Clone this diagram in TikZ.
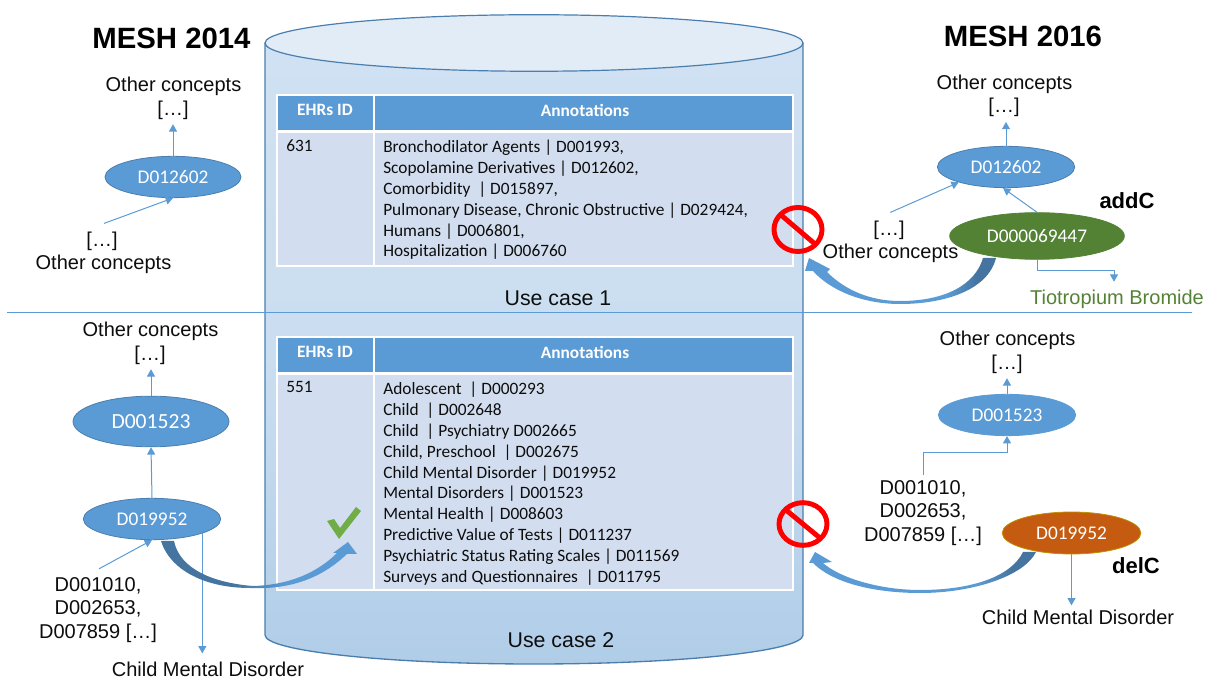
\documentclass[tikz,border=0pt]{standalone}
\usepackage{fontspec}
\setmainfont{Liberation Sans}
\newfontfamily\carl{Carlito}
\usetikzlibrary{shapes.geometric,arrows.meta}
\definecolor{cblue}{HTML}{5B9BD5}
\definecolor{cedge}{HTML}{4A7EAE}
\definecolor{cdark}{HTML}{44749F}
\definecolor{cgreen}{HTML}{548235}
\definecolor{corange}{HTML}{C55A11}
\definecolor{cgold}{HTML}{BF9000}
\definecolor{ccell}{HTML}{D2DEEF}
\definecolor{ccheck}{HTML}{70AD47}
\definecolor{ctop}{HTML}{E2ECF7}
\definecolor{cside}{HTML}{CFE1F2}
\definecolor{cbot}{HTML}{B0CDE8}
\definecolor{cink}{HTML}{0D0D0D}
\pgfdeclarehorizontalshading{bandright}{100bp}{color(0bp)=(cblue);color(62bp)=(cblue);color(70bp)=(cdark);color(100bp)=(cdark)}
\pgfdeclarehorizontalshading{bandleft}{100bp}{color(0bp)=(cdark);color(43bp)=(cdark);color(57bp)=(cblue);color(100bp)=(cblue)}
\tikzset{
  x=0.75pt,y=-0.75pt,
  conc/.style={ellipse,draw=cedge,line width=0.6pt,fill=cblue,text=white,inner sep=0pt,font=\carl\fontsize{14.5}{16}\selectfont},
  txt/.style={inner sep=0pt,text=cink,font=\fontsize{15}{17}\selectfont},
  title/.style={inner sep=0pt,text=black,font=\bfseries\fontsize{22}{25}\selectfont},
  tag/.style={inner sep=0pt,text=black,font=\bfseries\fontsize{16.5}{19}\selectfont},
  link/.style={draw=cblue,line width=0.75pt,-{Triangle[length=5.5pt,width=6pt]}},
  hdr/.style={fill=cblue,draw=white,line width=1pt},
  cell/.style={fill=ccell,draw=white,line width=1pt},
  hdrtxt/.style={inner sep=0pt,text=white,font=\carl\bfseries\fontsize{13}{15}\selectfont},
  celltxt/.style={inner sep=0pt,anchor=north west,align=left,text=cink,font=\carl\fontsize{13}{15.7}\selectfont},
  nosign/.style={draw=red,line width=3.7pt},
}
\begin{document}
\begin{tikzpicture}
\useasboundingbox (0,0) rectangle (1207,680);
% cylinder
\shade[top color=cside,bottom color=cbot,draw=none,middle color=cside!85!cbot]
  (265,43) -- (265,635) arc[start angle=180,end angle=360,x radius=201.75pt,y radius=21.75pt] -- (803,43) -- cycle;
\draw[cedge,line width=1pt] (265,43) -- (265,635) arc[start angle=180,end angle=360,x radius=201.75pt,y radius=21.75pt] -- (803,43);
\draw[cedge,line width=0.9pt,fill=ctop] (534,43) ellipse[x radius=201.75pt,y radius=21.2pt];
% tables
\draw[hdr] (277,95) rectangle (374,131);
\draw[hdr] (374,95) rectangle (793,131);
\draw[cell] (277,132.5) rectangle (374,266);
\draw[cell] (374,132.5) rectangle (793,266);
\draw[hdr] (277,337) rectangle (374,373);
\draw[hdr] (374,337) rectangle (793,373);
\draw[cell] (277,374.5) rectangle (374,590);
\draw[cell] (374,374.5) rectangle (793,590);
\node[hdrtxt] (h1a) at (325,110) {EHRs ID};
\node[hdrtxt] (h1b) at (585,110) {Annotations};
\node[hdrtxt] (h2a) at (325,352) {EHRs ID};
\node[hdrtxt] (h2b) at (585,352) {Annotations};
\node[celltxt] (id1) at (286,139.5) {631};
\node[celltxt] (an1) at (383,139.5) {Bronchodilator Agents | D001993,\\Scopolamine Derivatives | D012602,\\Comorbidity \ | D015897,\\Pulmonary Disease, Chronic Obstructive | D029424,\\Humans | D006801,\\Hospitalization | D006760};
\node[celltxt] (id2) at (286,381.5) {551};
\node[celltxt] (an2) at (383,381.5) {Adolescent \ | D000293\\Child \ | D002648\\Child \ | Psychiatry D002665\\Child, Preschool \ | D002675\\Child Mental Disorder | D019952\\Mental Disorders | D001523\\Mental Health | D008603\\Predictive Value of Tests | D011237\\Psychiatric Status Rating Scales | D011569\\Surveys and Questionnaires \ | D011795};
\node[inner sep=0pt,text=cink,font=\fontsize{16}{18}\selectfont] (uc1) at (558,298) {Use case 1};
\node[inner sep=0pt,text=cink,font=\fontsize{16}{18}\selectfont] (uc2) at (561,640) {Use case 2};
% divider
\coordinate (divL) at (7,312);
\coordinate (divR) at (1192,312);
\draw[cblue,line width=0.65pt] (divL) -- (divR);
% titles
\node[title] (t14) at (171.5,38) {MESH 2014};
\node[title] (t16) at (1023,36) {MESH 2016};
% upper left
\node[txt] (ol1) at (173.5,86) {Other concepts};
\node[txt] (bl1) at (173,110) {[…]};
\node[conc,minimum width=102pt,minimum height=31pt] (a1) at (173,177) {D012602};
\node[txt] (bl2) at (102,241) {[…]};
\node[txt] (ol2) at (103.5,264) {Other concepts};
\draw[link,shorten >=3.5pt] (a1.north) -- (a1.north |- bl1.south);
\draw[link] ([xshift=1.5pt,yshift=6pt]bl2.north) -- (a1.south);
% upper right
\node[txt] (or1) at (1004.5,84) {Other concepts};
\node[txt] (br1) at (1004,107) {[…]};
\node[conc,minimum width=103pt,minimum height=31pt] (b1) at (1006,167) {D012602};
\node[conc,draw=cgreen,fill=cgreen,minimum width=131pt,minimum height=35pt] (g1) at (1037,236) {D000069447};
\node[txt] (br2) at (889,230) {[…]};
\node[txt] (or2) at (890.5,253) {Other concepts};
\node[tag] (add) at (1127,201) {addC};
\node[txt,text=cgreen] (tio) at (1117,299) {Tiotropium Bromide};
\draw[link,shorten >=4pt] (b1.north) -- (b1.north |- br1.south);
\draw[link] ([xshift=1pt,yshift=6pt]br2.north) -- (b1.198);
\draw[link] (g1.north) -- (b1.262);
\draw[link] (g1.south) -- ++(0,11) -- ++(77,0) -- ++(0,11);
% lower left
\node[txt] (ol3) at (150.5,331) {Other concepts};
\node[txt] (bl3) at (150,355) {[…]};
\node[conc,minimum width=117pt,minimum height=38pt,font=\carl\fontsize{16.2}{18}\selectfont] (c1) at (151,421.5) {D001523};
\node[conc,minimum width=103pt,minimum height=31pt] (c2) at (152,519) {D019952};
\node[txt] (dl1) at (98,586) {D001010,};
\node[txt] (dl2) at (98,609) {D002653,};
\node[txt] (dl3) at (98,633) {D007859 […]};
\node[txt] (cl) at (208,669) {Child Mental Disorder};
\draw[link,shorten >=3.5pt] (c1.north) -- (c1.north |- bl3.south);
\draw[link] (c2.north) -- (c1.south);
\draw[link] ([xshift=0.75pt,yshift=6.5pt]dl1.north) -- (c2.south);
\draw[link,shorten >=6pt] (c2.-16) -- (c2.-16 |- cl.north);
% lower right
\node[txt] (or3) at (1007.5,340) {Other concepts};
\node[txt] (br3) at (1007,364) {[…]};
\node[conc,draw=cblue,minimum width=103pt,minimum height=31pt] (d1) at (1007,415) {D001523};
\node[txt] (dr1) at (923,489) {D001010,};
\node[txt] (dr2) at (923,512) {D002653,};
\node[txt] (dr3) at (923,536) {D007859 […]};
\node[conc,draw=cgold,fill=corange,minimum width=104pt,minimum height=31.5pt] (e1) at (1071.5,533) {D019952};
\node[tag] (del) at (1136,566) {delC};
\node[txt] (cr) at (1078,617) {Child Mental Disorder};
\draw[link,shorten >=3.5pt] (d1.north) -- (d1.north |- br3.south);
\draw[link,shorten <=4pt] (dr1.north) |- (d1.south |- 0,453) -- (d1.south);
\draw[link,shorten >=3pt] (e1.south) -- (e1.south |- cr.north);
% block arrows
\shade[shading=bandright,shading angle=0]
  (996,258) .. controls (988,290) and (945,304) .. (900,304)
  .. controls (862,304) and (830,290) .. (813,271) -- (805,271) -- (809,258) -- (830,269) -- (827,272)
  .. controls (845,290) and (870,301) .. (900,301)
  .. controls (945,301) and (975,285) .. (983,258) -- cycle;
\shade[shading=bandright,shading angle=0]
  (1036,552) .. controls (1025,575) and (975,593) .. (920,593)
  .. controls (880,593) and (835,585) .. (813,563) -- (809,563) -- (815,552) -- (832,562) -- (823,563)
  .. controls (840,578) and (880,590) .. (920,590)
  .. controls (975,590) and (1012,575) .. (1023,552) -- cycle;
\shade[shading=bandleft,shading angle=0]
  (161,541) .. controls (170,570) and (205,588) .. (250,588)
  .. controls (295,590) and (325,575) .. (347,554) -- (357,554) -- (348,542) -- (333,553) -- (337,553)
  .. controls (318,572) and (290,585) .. (253,586)
  .. controls (215,583) and (180,570) .. (174,541) -- cycle;
% check mark
\fill[ccheck] (327,521) -- (334,519) -- (340,528) -- (356,507) -- (361,511) -- (339,539) -- cycle;
% prohibition signs
\draw[nosign] (798,229.5) ellipse[x radius=18pt,y radius=16.5pt];
\draw[nosign] (781,215) -- (815,244);
\draw[nosign] (803,524) ellipse[x radius=18pt,y radius=16pt];
\draw[nosign] (786,510) -- (820,538);
\end{tikzpicture}
\end{document}
